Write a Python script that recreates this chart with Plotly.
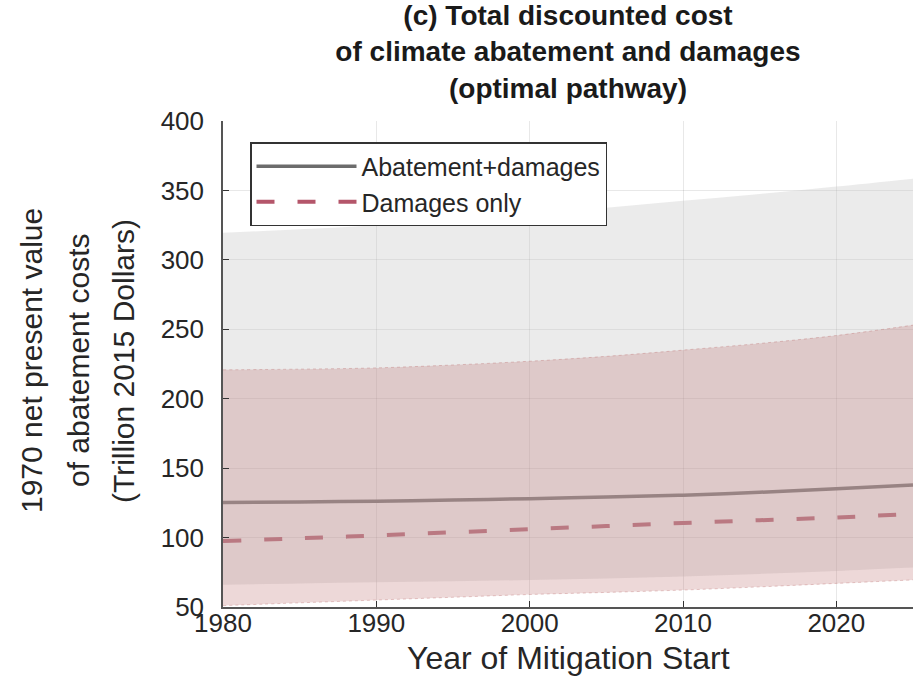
import plotly.graph_objects as go

years = [1980, 1985, 1990, 1995, 2000, 2005, 2010, 2015, 2020, 2025]
abatement_damages = [125.2, 125.6, 126.2, 127.0, 128.0, 129.2, 130.5, 132.6, 135.2, 137.8]
damages_only = [97.5, 99.5, 101.5, 103.8, 106.0, 108.3, 110.5, 112.5, 114.5, 117.0]
abd_upper = [319.5, 322.0, 325.0, 329.0, 333.0, 337.5, 342.5, 347.5, 352.8, 358.5]
abd_lower = [66.0, 67.0, 67.8, 68.6, 69.4, 70.5, 72.0, 73.8, 76.0, 78.5]
dmg_upper = [220.8, 221.3, 222.2, 224.3, 227.0, 230.5, 235.0, 239.8, 245.5, 253.0]
dmg_lower = [51.0, 53.0, 55.0, 57.0, 59.0, 60.5, 62.2, 64.5, 67.0, 69.5]

x_ticks = [1980, 1990, 2000, 2010, 2020]
y_ticks = [50, 100, 150, 200, 250, 300, 350, 400]

title_lines = ["(c) Total discounted cost", "of climate abatement and damages", "(optimal pathway)"]
ytitle_lines = ["1970 net present value", "of abatement costs", "(Trillion 2015 Dollars)"]
xtitle = "Year of Mitigation Start"

FONT = "Liberation Sans, Arial, Helvetica, sans-serif"
TXT = "#262626"

# plot area in pixels
L, R, T, B = 223, 913, 121, 607
W, H = 914, 691

def xp(px):
    return (px - L) / (R - L)

def yp(py):
    return (B - py) / (B - T)

fig = go.Figure()

# lines (drawn first so band fills tint them, as in the original)
fig.add_trace(go.Scatter(x=years, y=abatement_damages, mode="lines", name="Abatement+damages",
                         line=dict(color="#6c6c6c", width=3.5, shape="spline")))
fig.add_trace(go.Scatter(x=years, y=damages_only, mode="lines", name="Damages only",
                         line=dict(color="#b4566a", width=4, dash="18px,23px", shape="spline")))

# abatement+damages uncertainty band (gray)
fig.add_trace(go.Scatter(x=years, y=abd_lower, mode="lines", showlegend=False, hoverinfo="skip",
                         line=dict(color="rgba(0,0,0,0)", width=0, shape="spline")))
fig.add_trace(go.Scatter(x=years, y=abd_upper, mode="lines", showlegend=False, hoverinfo="skip",
                         fill="tonexty", fillcolor="rgba(200,200,200,0.36)",
                         line=dict(color="rgba(0,0,0,0)", width=0, shape="spline")))

# damages-only uncertainty band (red)
fig.add_trace(go.Scatter(x=years, y=dmg_lower, mode="lines", showlegend=False, hoverinfo="skip",
                         line=dict(color="rgba(185,105,105,0.35)", width=1, dash="dot", shape="spline")))
fig.add_trace(go.Scatter(x=years, y=dmg_upper, mode="lines", showlegend=False, hoverinfo="skip",
                         fill="tonexty", fillcolor="rgba(185,105,105,0.26)",
                         line=dict(color="rgba(185,105,105,0.35)", width=1, dash="dot", shape="spline")))

annotations = []
# y-axis title lines
for txt, px in zip(ytitle_lines, [31, 78, 123]):
    annotations.append(dict(text=txt, x=xp(px), y=yp(361), xref="paper", yref="paper",
                            xanchor="center", yanchor="middle", textangle=-90, showarrow=False,
                            font=dict(family=FONT, size=30, color=TXT)))
# x-axis title
annotations.append(dict(text=xtitle, x=xp(568), y=yp(658), xref="paper", yref="paper",
                        xanchor="center", yanchor="middle", showarrow=False,
                        font=dict(family=FONT, size=32, color=TXT)))

fig.update_layout(
    width=W, height=H,
    margin=dict(l=L, r=W - R, t=T, b=H - B, pad=0),
    paper_bgcolor="white", plot_bgcolor="white",
    font=dict(family=FONT, color=TXT),
    title=dict(text="<b>" + "<br>".join(title_lines) + "</b>",
               x=xp(568), xref="paper", xanchor="center",
               y=1 - 25 / H, yref="container", yanchor="middle",
               font=dict(family=FONT, size=28, color="#1a1a1a")),
    annotations=annotations,
    legend=dict(x=xp(250), y=yp(142), xanchor="left", yanchor="top",
                bgcolor="white", bordercolor="#333333", borderwidth=1.5,
                font=dict(family=FONT, size=25, color=TXT), traceorder="normal",
                itemwidth=100, tracegroupgap=0),
    showlegend=True,
)

fig.update_xaxes(range=[1980, 2025], tickvals=x_ticks, ticktext=[str(v) for v in x_ticks],
                 showgrid=True, gridcolor="rgba(0,0,0,0.09)", gridwidth=1,
                 showline=True, linecolor="#555555", linewidth=1.5, mirror=False,
                 ticks="inside", ticklen=6, tickcolor="#333333", ticklabelstandoff=-8,
                 tickfont=dict(family=FONT, size=26, color=TXT), zeroline=False)
fig.update_yaxes(range=[50, 400], tickvals=y_ticks, ticktext=[str(v) for v in y_ticks],
                 showgrid=True, gridcolor="rgba(0,0,0,0.09)", gridwidth=1,
                 showline=True, linecolor="#555555", linewidth=1.5, mirror=False,
                 ticks="inside", ticklen=6, tickcolor="#333333", ticklabelstandoff=12,
                 tickfont=dict(family=FONT, size=26, color=TXT), zeroline=False)

fig.write_html("out.html", config={"displayModeBar": False},
               post_script="document.body.style.margin='0';document.body.style.overflow='hidden';")
